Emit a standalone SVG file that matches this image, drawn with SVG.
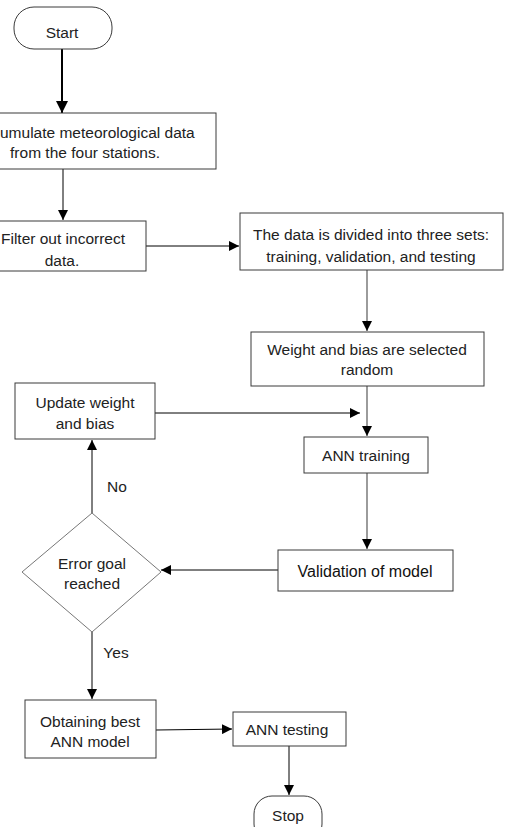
<svg xmlns="http://www.w3.org/2000/svg" width="505" height="827" viewBox="0 0 505 827">
<style>
.box{fill:#fff;stroke:#3a3a3a;stroke-width:1}
.t{font-family:"Liberation Sans",Arial,sans-serif;font-size:15.5px;fill:#222;text-anchor:middle}
.ta{font-family:"Liberation Sans",Arial,sans-serif;font-size:16px;fill:#111;text-anchor:middle}
.c{fill:none;stroke:#000;stroke-width:1}
.g{fill:none;stroke:#666;stroke-width:1.3}
</style>
<defs>
<marker id="ah" viewBox="0 0 10 10" refX="10" refY="5" markerWidth="10" markerHeight="10" markerUnits="userSpaceOnUse" orient="auto"><path d="M0,0L10,5L0,10z" fill="#000"/></marker>
<marker id="ahs" viewBox="0 0 10 10" refX="10" refY="5" markerWidth="6" markerHeight="6" orient="auto"><path d="M0,0L10,5L0,10z" fill="#000"/></marker>
</defs>
<rect width="505" height="827" fill="#fff"/>
<g id="connectors">
<line x1="62" y1="49" x2="62" y2="113" stroke="#000" stroke-width="2" marker-end="url(#ahs)"/>
<line class="c" x1="63" y1="169" x2="63" y2="220" marker-end="url(#ah)"/>
<line class="c" x1="146" y1="246" x2="239" y2="246" marker-end="url(#ah)"/>
<line class="g" x1="367" y1="270" x2="367" y2="331" marker-end="url(#ah)"/>
<line class="g" x1="367" y1="386" x2="367" y2="436" marker-end="url(#ah)"/>
<line class="c" x1="155" y1="413" x2="360" y2="413" marker-end="url(#ah)"/>
<line class="g" x1="367" y1="473" x2="367" y2="549" marker-end="url(#ah)"/>
<line class="c" x1="278" y1="570" x2="161" y2="570" marker-end="url(#ah)"/>
<line class="c" x1="92" y1="513" x2="92" y2="440" marker-end="url(#ah)"/>
<line class="c" x1="92" y1="632" x2="92" y2="699" marker-end="url(#ah)"/>
<line class="c" x1="156" y1="730" x2="232" y2="729" marker-end="url(#ah)"/>
<line class="c" x1="289" y1="746" x2="289" y2="795" marker-end="url(#ah)"/>
<text class="t" x="117" y="492">No</text>
<text class="t" x="116" y="658">Yes</text>
</g>
<g id="start">
<rect class="box" x="14" y="7" width="98" height="42" rx="20" ry="20"/>
<text class="t" x="62" y="38">Start</text>
</g>
<g id="accumulate">
<rect class="box" x="-30" y="113" width="246" height="56"/>
<text class="t" x="0" y="138" style="text-anchor:start">umulate meteorological data</text>
<text class="t" x="85" y="158">from the four stations.</text>
</g>
<g id="filter">
<rect class="box" x="-20" y="221" width="166" height="50"/>
<text class="t" x="63" y="244">Filter out incorrect</text>
<text class="t" x="62" y="266">data.</text>
</g>
<g id="divide">
<rect class="box" x="240" y="213" width="263" height="57"/>
<text class="t" x="371" y="240">The data is divided into three sets:</text>
<text class="t" x="371" y="262">training, validation, and testing</text>
</g>
<g id="weight">
<rect class="box" x="251" y="332" width="233" height="54"/>
<text class="t" x="367" y="355">Weight and bias are selected</text>
<text class="t" x="367" y="375">random</text>
</g>
<g id="update">
<rect class="box" x="15" y="383" width="140" height="56"/>
<text class="t" x="85" y="408">Update weight</text>
<text class="t" x="85" y="429">and bias</text>
</g>
<g id="training">
<rect class="box" x="304" y="437" width="124" height="36"/>
<text class="t" x="366" y="461">ANN training</text>
</g>
<g id="validation">
<rect class="box" x="278" y="550" width="175" height="41"/>
<text class="ta" x="365" y="577">Validation of model</text>
</g>
<g id="decision">
<polygon points="92,513 161,572 92,632 22,572" fill="#fff" stroke="#777" stroke-width="1"/>
<text class="t" x="92" y="569">Error goal</text>
<text class="t" x="92" y="589">reached</text>
</g>
<g id="best">
<rect class="box" x="25" y="700" width="131" height="58"/>
<text class="t" x="90" y="727">Obtaining best</text>
<text class="t" x="90" y="747">ANN model</text>
</g>
<g id="testing">
<rect class="box" x="233" y="712" width="113" height="34"/>
<text class="t" x="287" y="735">ANN testing</text>
</g>
<g id="stop">
<rect class="box" x="254" y="796" width="68" height="46" rx="18" ry="18"/>
<text class="t" x="288" y="821">Stop</text>
</g>
</svg>
